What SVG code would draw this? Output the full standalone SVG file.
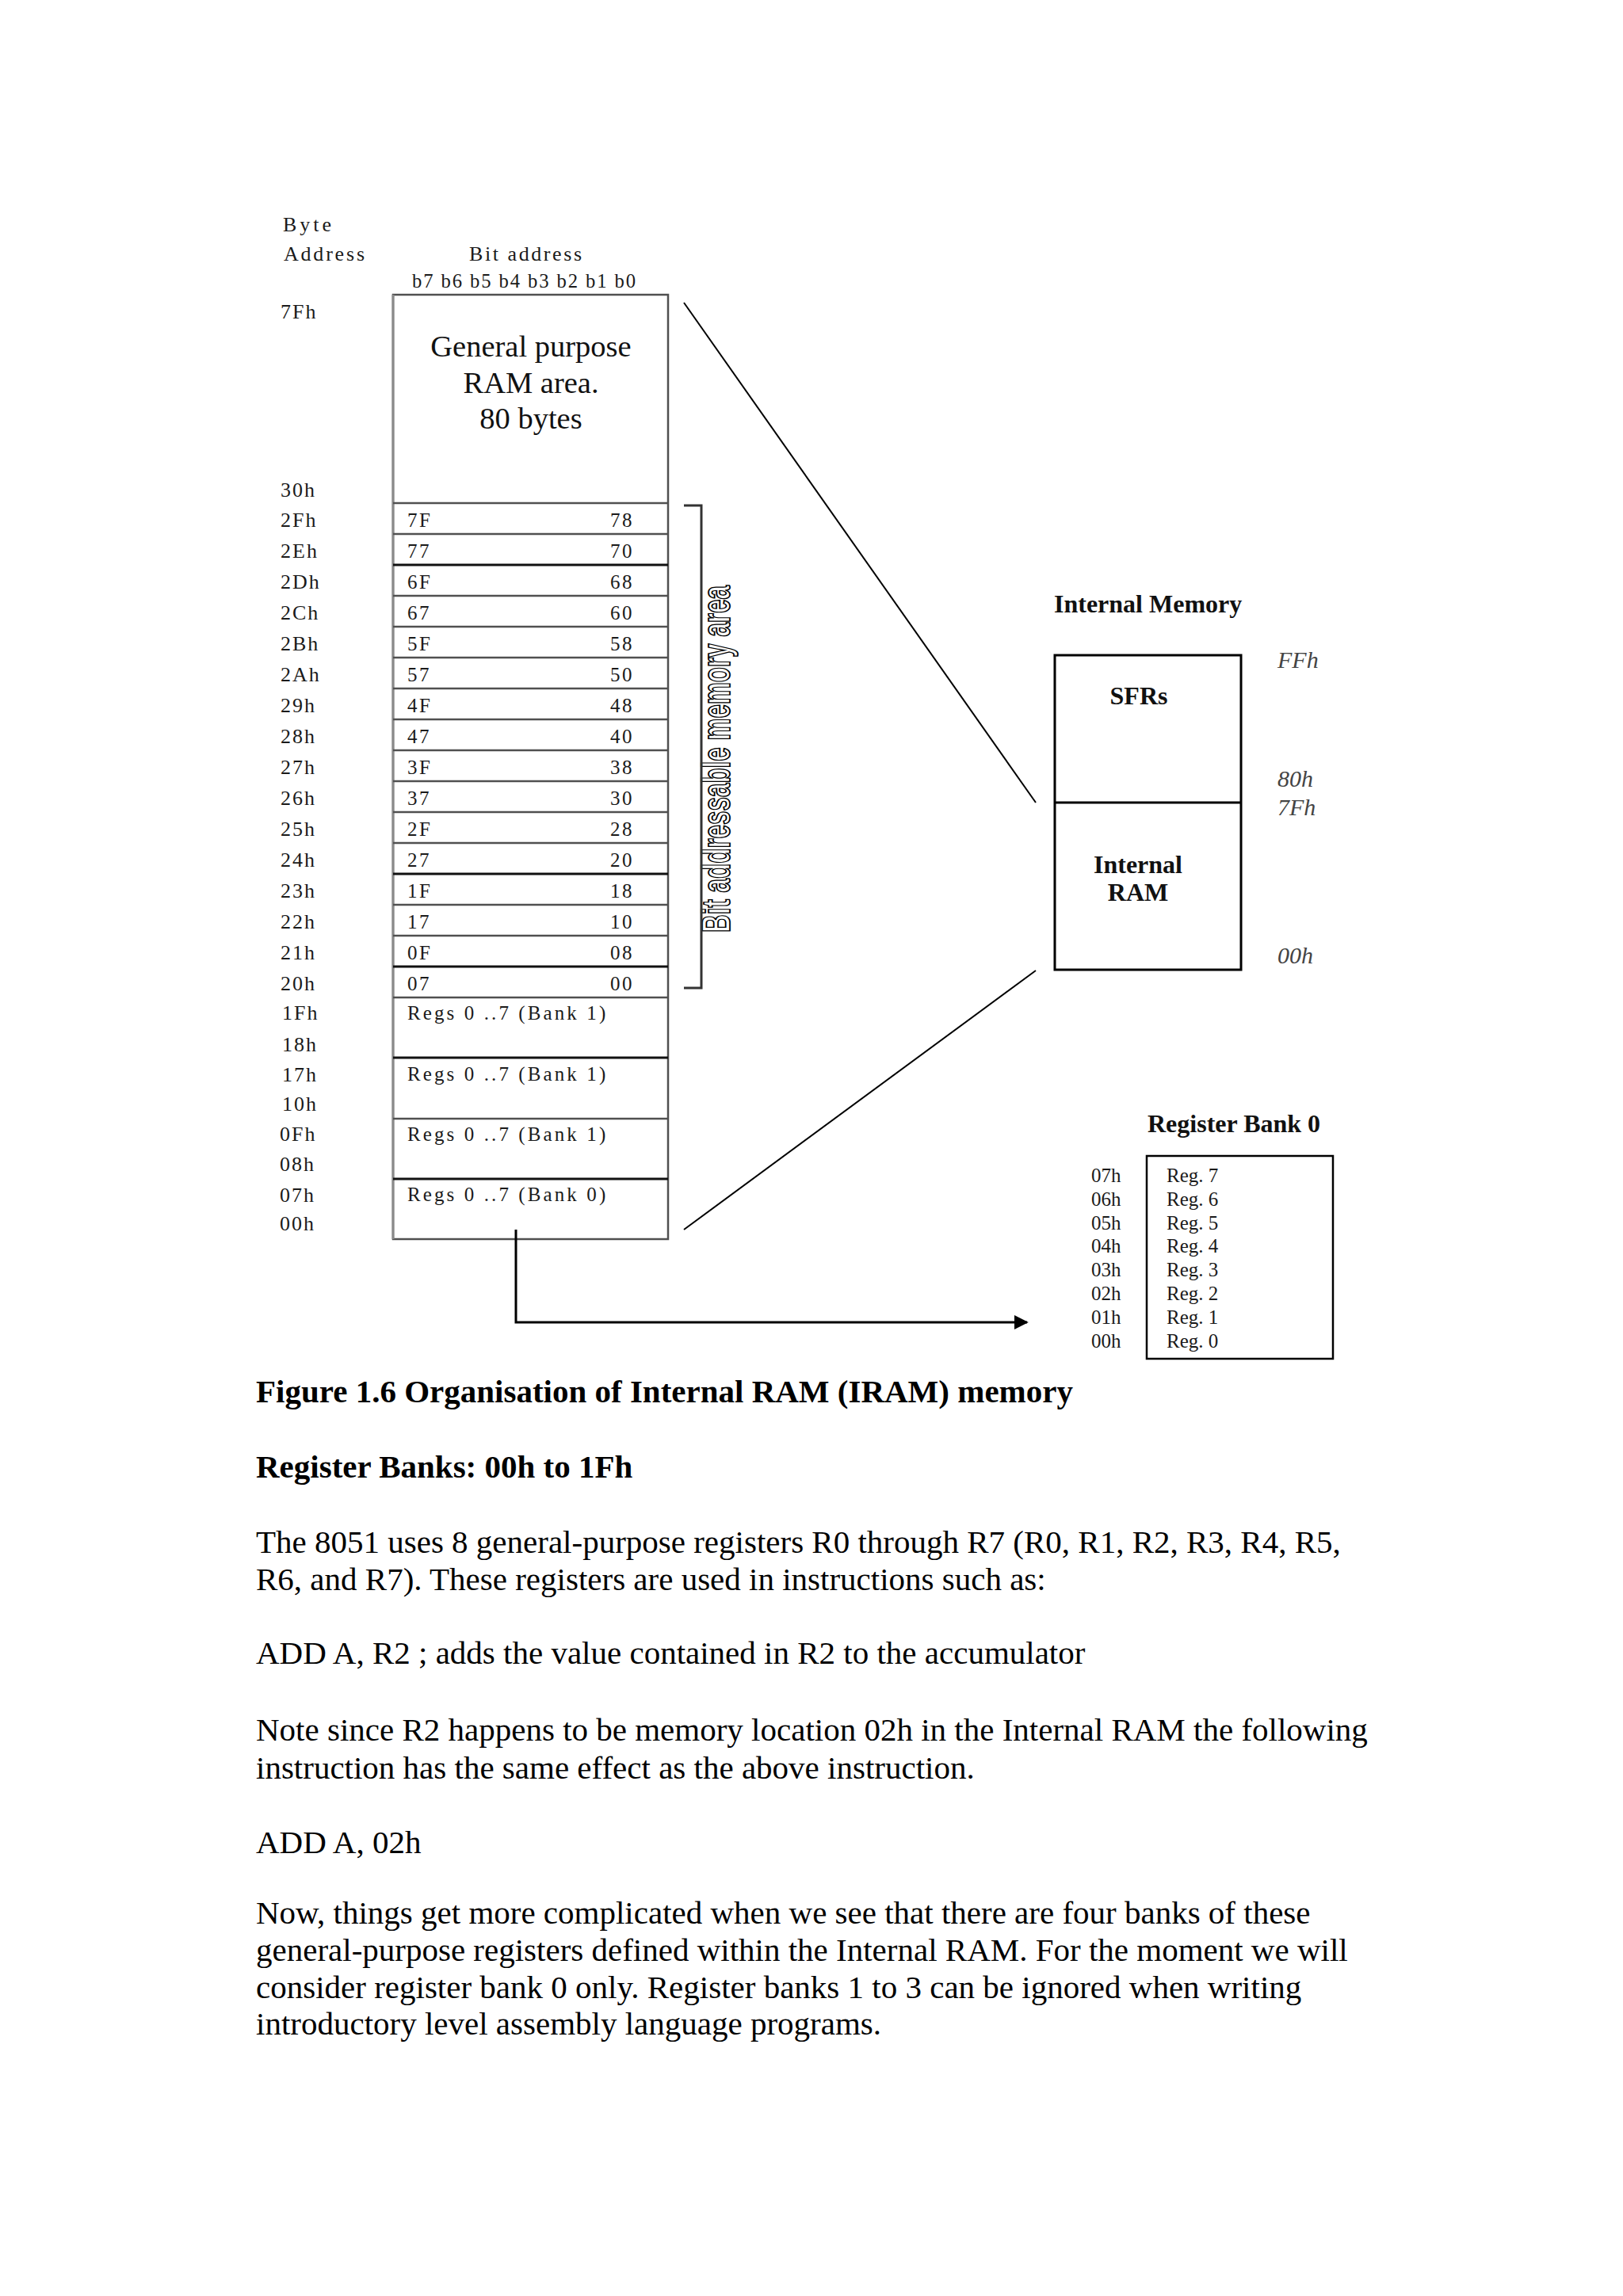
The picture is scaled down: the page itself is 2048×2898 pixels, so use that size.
<svg xmlns="http://www.w3.org/2000/svg" width="2048" height="2898" viewBox="0 0 2048 2898">
<defs>
<style>
text{font-family:"Liberation Serif","Times New Roman",serif}
.lbl{font-size:26px;letter-spacing:2px;fill:#1a1a1a}
.cell{font-size:25px;letter-spacing:2.5px;fill:#1a1a1a}
.regs{font-size:25px;letter-spacing:3.1px;fill:#1a1a1a}
.end{text-anchor:end}
.mid{text-anchor:middle}
.big{font-size:38.5px;fill:#111}
.b32{font-size:32px;font-weight:bold;fill:#111}
.ital{font-size:30px;font-style:italic;fill:#444}
.reg{font-size:25px;fill:#1a1a1a}
.body{font-size:41px;fill:#000}
.bodyb{font-size:41px;font-weight:bold;fill:#000}
.row{stroke:#505050;stroke-width:2.5}
.rowk{stroke:#111;stroke-width:3}
.conn{stroke:#000;stroke-width:2;fill:none}
</style>
<marker id="arr" viewBox="0 0 10 10" refX="9" refY="5" markerWidth="6" markerHeight="6" markerUnits="strokeWidth" orient="auto">
<path d="M0,0 L10,5 L0,10 z" fill="#000"/>
</marker>
</defs>
<rect width="2048" height="2898" fill="#fff"/>

<g id="memory-map">
<text class="lbl" x="357" y="292" textLength="63" lengthAdjust="spacing">Byte</text>
<text class="lbl" x="358" y="329" textLength="104" lengthAdjust="spacing">Address</text>
<text class="lbl" x="592" y="329" textLength="144" lengthAdjust="spacing">Bit address</text>
<text class="lbl" x="520" y="363" textLength="284" lengthAdjust="spacingAndGlyphs">b7 b6 b5 b4 b3 b2 b1 b0</text>
<text class="lbl" x="354" y="402">7Fh</text>
<text class="big mid" x="670" y="450">General purpose</text>
<text class="big mid" x="670" y="496">RAM area.</text>
<text class="big mid" x="670" y="541">80 bytes</text>
<text class="lbl" x="354" y="627">30h</text>
<rect x="496" y="372" width="347" height="1192" fill="none" stroke="#505050" stroke-width="2.5"/>
<line x1="496" y1="372" x2="496" y2="1564" stroke="#8a8a8a" stroke-width="3"/>
<g>
<line class="row" x1="496" y1="635" x2="843" y2="635"/>
<line class="row" x1="496" y1="674" x2="843" y2="674"/>
<line class="rowk" x1="496" y1="713" x2="843" y2="713"/>
<line class="row" x1="496" y1="752" x2="843" y2="752"/>
<line class="row" x1="496" y1="791" x2="843" y2="791"/>
<line class="row" x1="496" y1="830" x2="843" y2="830"/>
<line class="row" x1="496" y1="869" x2="843" y2="869"/>
<line class="row" x1="496" y1="908" x2="843" y2="908"/>
<line class="row" x1="496" y1="947" x2="843" y2="947"/>
<line class="row" x1="496" y1="986" x2="843" y2="986"/>
<line class="row" x1="496" y1="1025" x2="843" y2="1025"/>
<line class="row" x1="496" y1="1064" x2="843" y2="1064"/>
<line class="rowk" x1="496" y1="1103" x2="843" y2="1103"/>
<line class="row" x1="496" y1="1142" x2="843" y2="1142"/>
<line class="row" x1="496" y1="1181" x2="843" y2="1181"/>
<line class="rowk" x1="496" y1="1220" x2="843" y2="1220"/>
<line class="row" x1="496" y1="1259" x2="843" y2="1259"/>
<line class="rowk" x1="496" y1="1335" x2="843" y2="1335"/>
<line class="row" x1="496" y1="1412" x2="843" y2="1412"/>
<line class="rowk" x1="496" y1="1488" x2="843" y2="1488"/>
</g>
<g>
<text class="lbl" x="354" y="665">2Fh</text><text class="cell" x="514" y="665">7F</text><text class="cell end" x="800" y="665">78</text>
<text class="lbl" x="354" y="704">2Eh</text><text class="cell" x="514" y="704">77</text><text class="cell end" x="800" y="704">70</text>
<text class="lbl" x="354" y="743">2Dh</text><text class="cell" x="514" y="743">6F</text><text class="cell end" x="800" y="743">68</text>
<text class="lbl" x="354" y="782">2Ch</text><text class="cell" x="514" y="782">67</text><text class="cell end" x="800" y="782">60</text>
<text class="lbl" x="354" y="821">2Bh</text><text class="cell" x="514" y="821">5F</text><text class="cell end" x="800" y="821">58</text>
<text class="lbl" x="354" y="860">2Ah</text><text class="cell" x="514" y="860">57</text><text class="cell end" x="800" y="860">50</text>
<text class="lbl" x="354" y="899">29h</text><text class="cell" x="514" y="899">4F</text><text class="cell end" x="800" y="899">48</text>
<text class="lbl" x="354" y="938">28h</text><text class="cell" x="514" y="938">47</text><text class="cell end" x="800" y="938">40</text>
<text class="lbl" x="354" y="977">27h</text><text class="cell" x="514" y="977">3F</text><text class="cell end" x="800" y="977">38</text>
<text class="lbl" x="354" y="1016">26h</text><text class="cell" x="514" y="1016">37</text><text class="cell end" x="800" y="1016">30</text>
<text class="lbl" x="354" y="1055">25h</text><text class="cell" x="514" y="1055">2F</text><text class="cell end" x="800" y="1055">28</text>
<text class="lbl" x="354" y="1094">24h</text><text class="cell" x="514" y="1094">27</text><text class="cell end" x="800" y="1094">20</text>
<text class="lbl" x="354" y="1133">23h</text><text class="cell" x="514" y="1133">1F</text><text class="cell end" x="800" y="1133">18</text>
<text class="lbl" x="354" y="1172">22h</text><text class="cell" x="514" y="1172">17</text><text class="cell end" x="800" y="1172">10</text>
<text class="lbl" x="354" y="1211">21h</text><text class="cell" x="514" y="1211">0F</text><text class="cell end" x="800" y="1211">08</text>
<text class="lbl" x="354" y="1250">20h</text><text class="cell" x="514" y="1250">07</text><text class="cell end" x="800" y="1250">00</text>
</g>
<g>
<text class="lbl" x="356" y="1287">1Fh</text>
<text class="lbl" x="356" y="1327">18h</text>
<text class="lbl" x="356" y="1365">17h</text>
<text class="lbl" x="356" y="1402">10h</text>
<text class="lbl" x="353" y="1440">0Fh</text>
<text class="lbl" x="353" y="1478">08h</text>
<text class="lbl" x="353" y="1517">07h</text>
<text class="lbl" x="353" y="1553">00h</text>
<text class="regs" x="514" y="1287">Regs 0 ..7 (Bank 1)</text>
<text class="regs" x="514" y="1364">Regs 0 ..7 (Bank 1)</text>
<text class="regs" x="514" y="1440">Regs 0 ..7 (Bank 1)</text>
<text class="regs" x="514" y="1516">Regs 0 ..7 (Bank 0)</text>
</g>
<text transform="translate(921,1177) rotate(-90)" x="0" y="0" textLength="438" lengthAdjust="spacingAndGlyphs" style="font-family:'Liberation Sans',Arial,sans-serif;font-size:50px;font-weight:bold;fill:#fff;stroke:#000;stroke-width:1.8px">Bit addressable memory area</text>
</g>

<g id="internal-memory">
<text class="b32" x="1330" y="773">Internal Memory</text>
<rect x="1331" y="827" width="235" height="397" fill="none" stroke="#000" stroke-width="3"/>
<line x1="1331" y1="1013" x2="1566" y2="1013" stroke="#000" stroke-width="3"/>
<text class="b32 mid" x="1437" y="889">SFRs</text>
<text class="b32 mid" x="1436" y="1102">Internal</text>
<text class="b32 mid" x="1436" y="1137">RAM</text>
<text class="ital" x="1612" y="843">FFh</text>
<text class="ital" x="1612" y="993">80h</text>
<text class="ital" x="1612" y="1029">7Fh</text>
<text class="ital" x="1612" y="1216">00h</text>
</g>

<g id="register-bank-0">
<text class="b32" x="1448" y="1429">Register Bank 0</text>
<rect x="1447" y="1459" width="235" height="256" fill="none" stroke="#000" stroke-width="2.5"/>
<text class="reg" x="1377" y="1492">07h</text><text class="reg" x="1472" y="1492">Reg. 7</text>
<text class="reg" x="1377" y="1522">06h</text><text class="reg" x="1472" y="1522">Reg. 6</text>
<text class="reg" x="1377" y="1552">05h</text><text class="reg" x="1472" y="1552">Reg. 5</text>
<text class="reg" x="1377" y="1581">04h</text><text class="reg" x="1472" y="1581">Reg. 4</text>
<text class="reg" x="1377" y="1611">03h</text><text class="reg" x="1472" y="1611">Reg. 3</text>
<text class="reg" x="1377" y="1641">02h</text><text class="reg" x="1472" y="1641">Reg. 2</text>
<text class="reg" x="1377" y="1671">01h</text><text class="reg" x="1472" y="1671">Reg. 1</text>
<text class="reg" x="1377" y="1701">00h</text><text class="reg" x="1472" y="1701">Reg. 0</text>
</g>

<g id="connectors">
<line class="conn" x1="863" y1="382" x2="1307" y2="1013"/>
<line class="conn" x1="863" y1="1552" x2="1307" y2="1225"/>
<polyline points="863,638 885,638 885,1247 863,1247" fill="none" stroke="#333" stroke-width="3"/>
<path d="M651,1552 V1669 H1296" fill="none" stroke="#000" stroke-width="3" marker-end="url(#arr)"/>
</g>

<g id="text-body">
<text class="bodyb" x="323" y="1770">Figure 1.6 Organisation of Internal RAM (IRAM) memory</text>
<text class="bodyb" x="323" y="1865">Register Banks: 00h to 1Fh</text>
<text class="body" x="323" y="1960">The 8051 uses 8 general-purpose registers R0 through R7 (R0, R1, R2, R3, R4, R5,</text>
<text class="body" x="323" y="2007">R6, and R7). These registers are used in instructions such as:</text>
<text class="body" x="323" y="2100">ADD A, R2 ; adds the value contained in R2 to the accumulator</text>
<text class="body" x="323" y="2197">Note since R2 happens to be memory location 02h in the Internal RAM the following</text>
<text class="body" x="323" y="2245">instruction has the same effect as the above instruction.</text>
<text class="body" x="323" y="2339">ADD A, 02h</text>
<text class="body" x="323" y="2428">Now, things get more complicated when we see that there are four banks of these</text>
<text class="body" x="323" y="2475">general-purpose registers defined within the Internal RAM. For the moment we will</text>
<text class="body" x="323" y="2522">consider register bank 0 only. Register banks 1 to 3 can be ignored when writing</text>
<text class="body" x="323" y="2568">introductory level assembly language programs.</text>
</g>
</svg>
